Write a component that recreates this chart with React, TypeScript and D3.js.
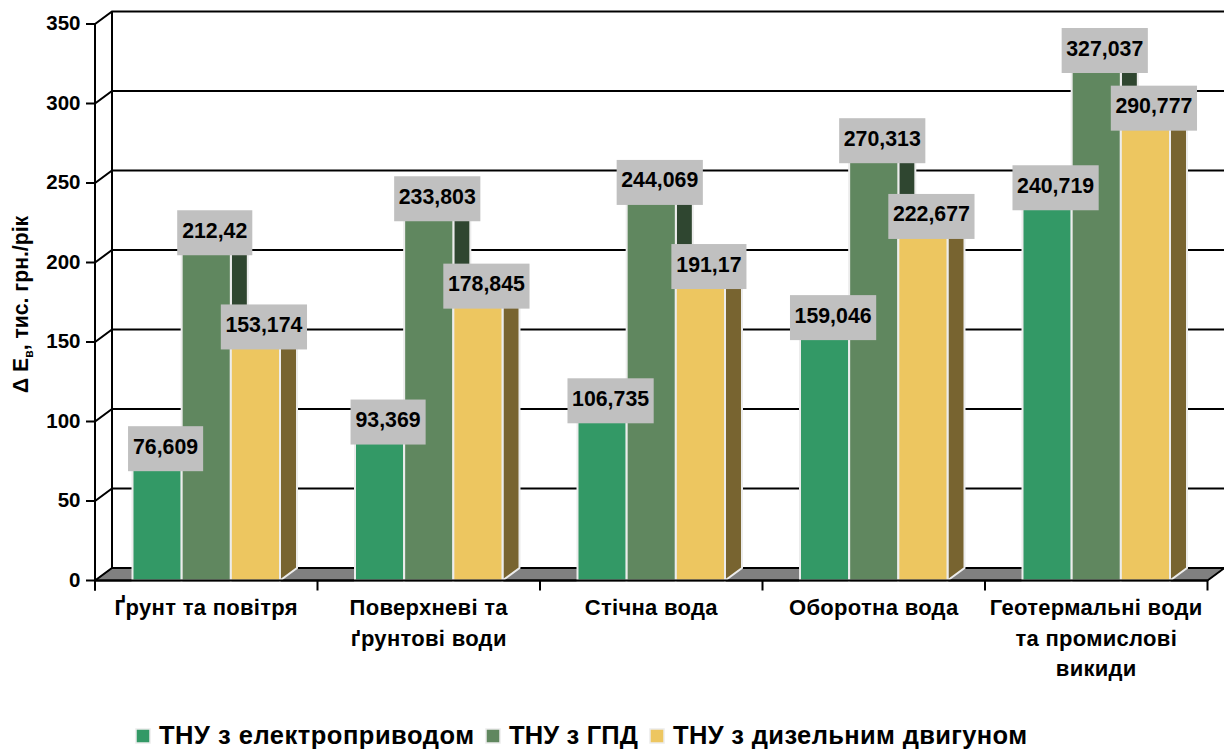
import React from "react";
import * as d3 from "d3";

const categories = [
  ["Ґрунт та повітря"],
  ["Поверхневі та", "ґрунтові води"],
  ["Стічна вода"],
  ["Оборотна вода"],
  ["Геотермальні води", "та промислові", "викиди"],
];
const seriesNames = ["ТНУ з електроприводом", "ТНУ з ГПД", "ТНУ з дизельним двигуном"];
const electric = [76.609, 93.369, 106.735, 159.046, 240.719];
const gasEngine = [212.42, 233.803, 244.069, 270.313, 327.037];
const diesel = [153.174, 178.845, 191.17, 222.677, 290.777];
const yTicks = [0, 50, 100, 150, 200, 250, 300, 350];

const frontColors = ["#339966", "#60875f", "#edc660"];
const sideColors = ["#1f5c3d", "#2f4630", "#786430"];
const topColors = ["#5cb088", "#80a07f", "#f3d88f"];

const width = 1224, height = 749;
const dx = 17, dy = -12.5;
const font = "'Liberation Sans', Arial, sans-serif";

const y = d3.scaleLinear().domain([0, 350]).range([580.5, 24]);
const x0 = d3.scaleBand<number>().domain(d3.range(5)).range([95, 1207.5]);
const x1 = d3.scaleBand<number>().domain(d3.range(3)).range([37.5, 185]);
const fmt = (v: number) => String(v).replace(".", ",");

const all = [electric, gasEngine, diesel];
const legendPos = [
  { box: 136, text: 159, len: 315 },
  { box: 486, text: 509, len: 129 },
  { box: 650, text: 673, len: 354 },
];

export default function App() {
  const y0 = y(0);
  const xEnd = x0.range()[1];
  return (
    <svg width={width} height={height} style={{ position: "absolute", left: 0, top: 0 }} fontFamily={font} fontWeight="bold">
      <rect width={width} height={height} fill="#fff" />
      {/* floor */}
      <polygon points={`95,${y0} ${95 + dx},${y0 + dy} ${xEnd + dx},${y0 + dy} ${xEnd},${y0}`} fill="#808080" stroke="#000" strokeWidth={1} />
      {/* back wall grid */}
      {yTicks.map((t) => (
        <g key={t} stroke="#000" strokeWidth={2} fill="none">
          <path d={`M${95 - 9},${y(t)}H95L${95 + dx},${y(t) + dy}H${t === 0 ? xEnd + dx : width}`} />
        </g>
      ))}
      <line x1={95} x2={95} y1={y(350)} y2={y0 + 10} stroke="#000" strokeWidth={2} />
      <line x1={95 + dx} x2={95 + dx} y1={y(350) + dy} y2={y0 + dy} stroke="#000" strokeWidth={2} />
      <line x1={95} x2={xEnd} y1={y0} y2={y0} stroke="#000" strokeWidth={2} />
      <line x1={xEnd} x2={xEnd + dx} y1={y0} y2={y0 + dy} stroke="#000" strokeWidth={2} />
      {x0.domain().concat([5]).map((i) => {
        const px = i === 5 ? xEnd : (x0(i) as number);
        return <line key={i} x1={px} x2={px} y1={y0} y2={y0 + 10} stroke="#000" strokeWidth={2} />;
      })}
      {/* bars */}
      {categories.map((_, c) =>
        all.map((vals, s) => {
          const left = (x0(c) as number) + (x1(s) as number);
          const w = x1.bandwidth();
          const top = y(vals[c]);
          return (
            <g key={`${c}-${s}`} stroke="#ececec" strokeWidth={2}>
              <polygon points={`${left + w},${top} ${left + w + dx},${top + dy} ${left + w + dx},${y0 + dy} ${left + w},${y0}`} fill={sideColors[s]} />
              <polygon points={`${left},${top} ${left + dx},${top + dy} ${left + w + dx},${top + dy} ${left + w},${top}`} fill={topColors[s]} />
              <rect x={left} y={top} width={w} height={y0 - top} fill={frontColors[s]} />
            </g>
          );
        })
      )}
      <line x1={95} x2={xEnd} y1={y0} y2={y0} stroke="#000" strokeWidth={2} />
      {/* value labels */}
      {categories.map((_, c) =>
        all.map((vals, s) => {
          const label = fmt(vals[c]);
          const cx = (x0(c) as number) + (x1(s) as number) + x1.bandwidth() / 2 + 8.5;
          const cy = y(vals[c]) - 10;
          const boxW = label.length * 11.1 + 8.5;
          const textW = ((label.length - 1) * 0.556 + 0.278) * 21.3;
          return (
            <g key={`l${c}-${s}`}>
              <rect x={cx - boxW / 2} y={cy - 22.5} width={boxW} height={45} fill="#c0c0c0" />
              <text x={cx} y={cy + 5} textAnchor="middle" fontSize={22.5} textLength={textW} lengthAdjust="spacingAndGlyphs">{label}</text>
            </g>
          );
        })
      )}
      {/* y axis labels */}
      {yTicks.map((t) => (
        <text key={t} x={80.5} y={y(t) + 6} textAnchor="end" fontSize={20.5}>{t}</text>
      ))}
      <text transform="translate(28,393) rotate(-90)" fontSize={21.2}>
        <tspan>Δ E</tspan>
        <tspan fontSize={12} dy={5}>в</tspan>
        <tspan dy={-5}>, тис. грн./рік</tspan>
      </text>
      {/* category labels */}
      {categories.map((lines, c) =>
        lines.map((ln, i) => (
          <text key={ln} x={(x0(c) as number) + x0.bandwidth() / 2} y={615 + i * 30.5} textAnchor="middle" fontSize={22} letterSpacing={0.3}>{ln}</text>
        ))
      )}
      {/* legend */}
      {seriesNames.map((name, s) => (
        <g key={name}>
          <rect x={legendPos[s].box} y={729} width={14} height={14} fill={frontColors[s]} stroke="#ececec" strokeWidth={1.5} />
          <text x={legendPos[s].text} y={744} fontSize={25.5} textLength={legendPos[s].len} lengthAdjust="spacing">{name}</text>
        </g>
      ))}
    </svg>
  );
}
